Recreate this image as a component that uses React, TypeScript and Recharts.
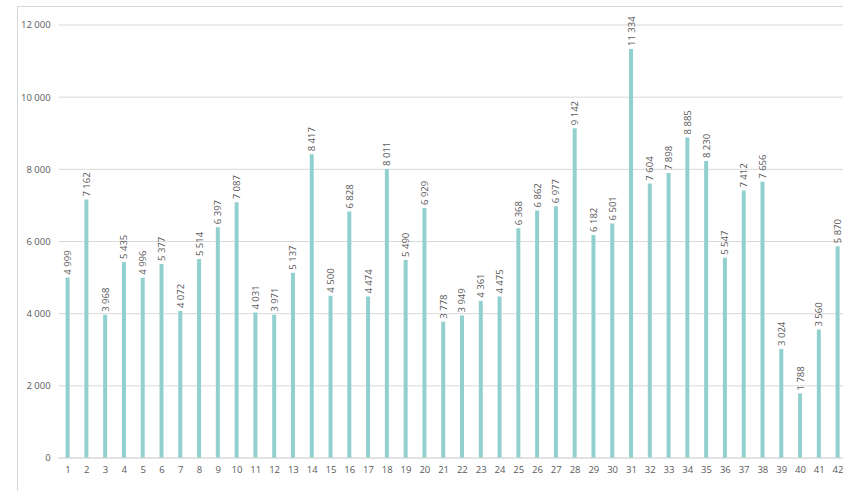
import { BarChart, Bar, XAxis, YAxis, CartesianGrid, LabelList } from "recharts";

const categories = [
  "1", "2", "3", "4", "5", "6", "7", "8", "9", "10", "11", "12", "13", "14",
  "15", "16", "17", "18", "19", "20", "21", "22", "23", "24", "25", "26", "27", "28",
  "29", "30", "31", "32", "33", "34", "35", "36", "37", "38", "39", "40", "41", "42",
];

const values = [
  4999, 7162, 3968, 5435, 4996, 5377, 4072, 5514, 6397, 7087, 4031, 3971, 5137, 8417,
  4500, 6828, 4474, 8011, 5490, 6929, 3778, 3949, 4361, 4475, 6368, 6862, 6977, 9142,
  6182, 6501, 11334, 7604, 7898, 8885, 8230, 5547, 7412, 7656, 3024, 1788, 3560, 5870,
];

const yTicks = [0, 2000, 4000, 6000, 8000, 10000, 12000];

const data = categories.map((c, i) => ({ name: c, value: values[i] }));

const FONT = "'Open Sans', 'Liberation Sans', sans-serif";
const TEXT = "#595959";

// non-breaking space so recharts doesn't wrap "12 000"
function fmt(v: number): string {
  return String(v).replace(/\B(?=(\d{3})+(?!\d))/g, "\u00a0");
}

function RotatedLabel(props: any) {
  const { x, y, width, value } = props;
  const cx = x + width / 2;
  const cy = y - 3;
  return (
    <text
      x={cx}
      y={cy}
      transform={`rotate(-90, ${cx}, ${cy})`}
      textAnchor="start"
      dominantBaseline="central"
      fontSize={9.5}
      fontFamily={FONT}
      fill={TEXT}
    >
      {fmt(value)}
    </text>
  );
}

export default function App() {
  return (
    <div
      style={{
        position: "absolute",
        left: 17,
        top: 6,
        width: 900,
        height: 520,
        border: "1px solid #d9d9d9",
        background: "#fff",
      }}
    >
      <BarChart
        width={850}
        height={490}
        data={data}
        margin={{ top: 18, right: 20.6, left: 0, bottom: 19 }}
        barCategoryGap={0}
      >
        <CartesianGrid vertical={false} stroke="#d9d9d9" />
        <XAxis
          dataKey="name"
          axisLine={{ stroke: "#d9d9d9" }}
          tickLine={false}
          height={20}
          interval={0}
          tick={{ fontSize: 9.5, fontFamily: FONT, fill: TEXT }}
        />
        <YAxis
          width={40.6}
          domain={[0, 12000]}
          ticks={yTicks}
          axisLine={false}
          tickLine={false}
          tickFormatter={fmt}
          tick={{ fontSize: 9.5, fontFamily: FONT, fill: TEXT }}
        />
        <Bar dataKey="value" fill="#92d0d0" barSize={4} isAnimationActive={false}>
          <LabelList dataKey="value" content={RotatedLabel} />
        </Bar>
      </BarChart>
    </div>
  );
}
